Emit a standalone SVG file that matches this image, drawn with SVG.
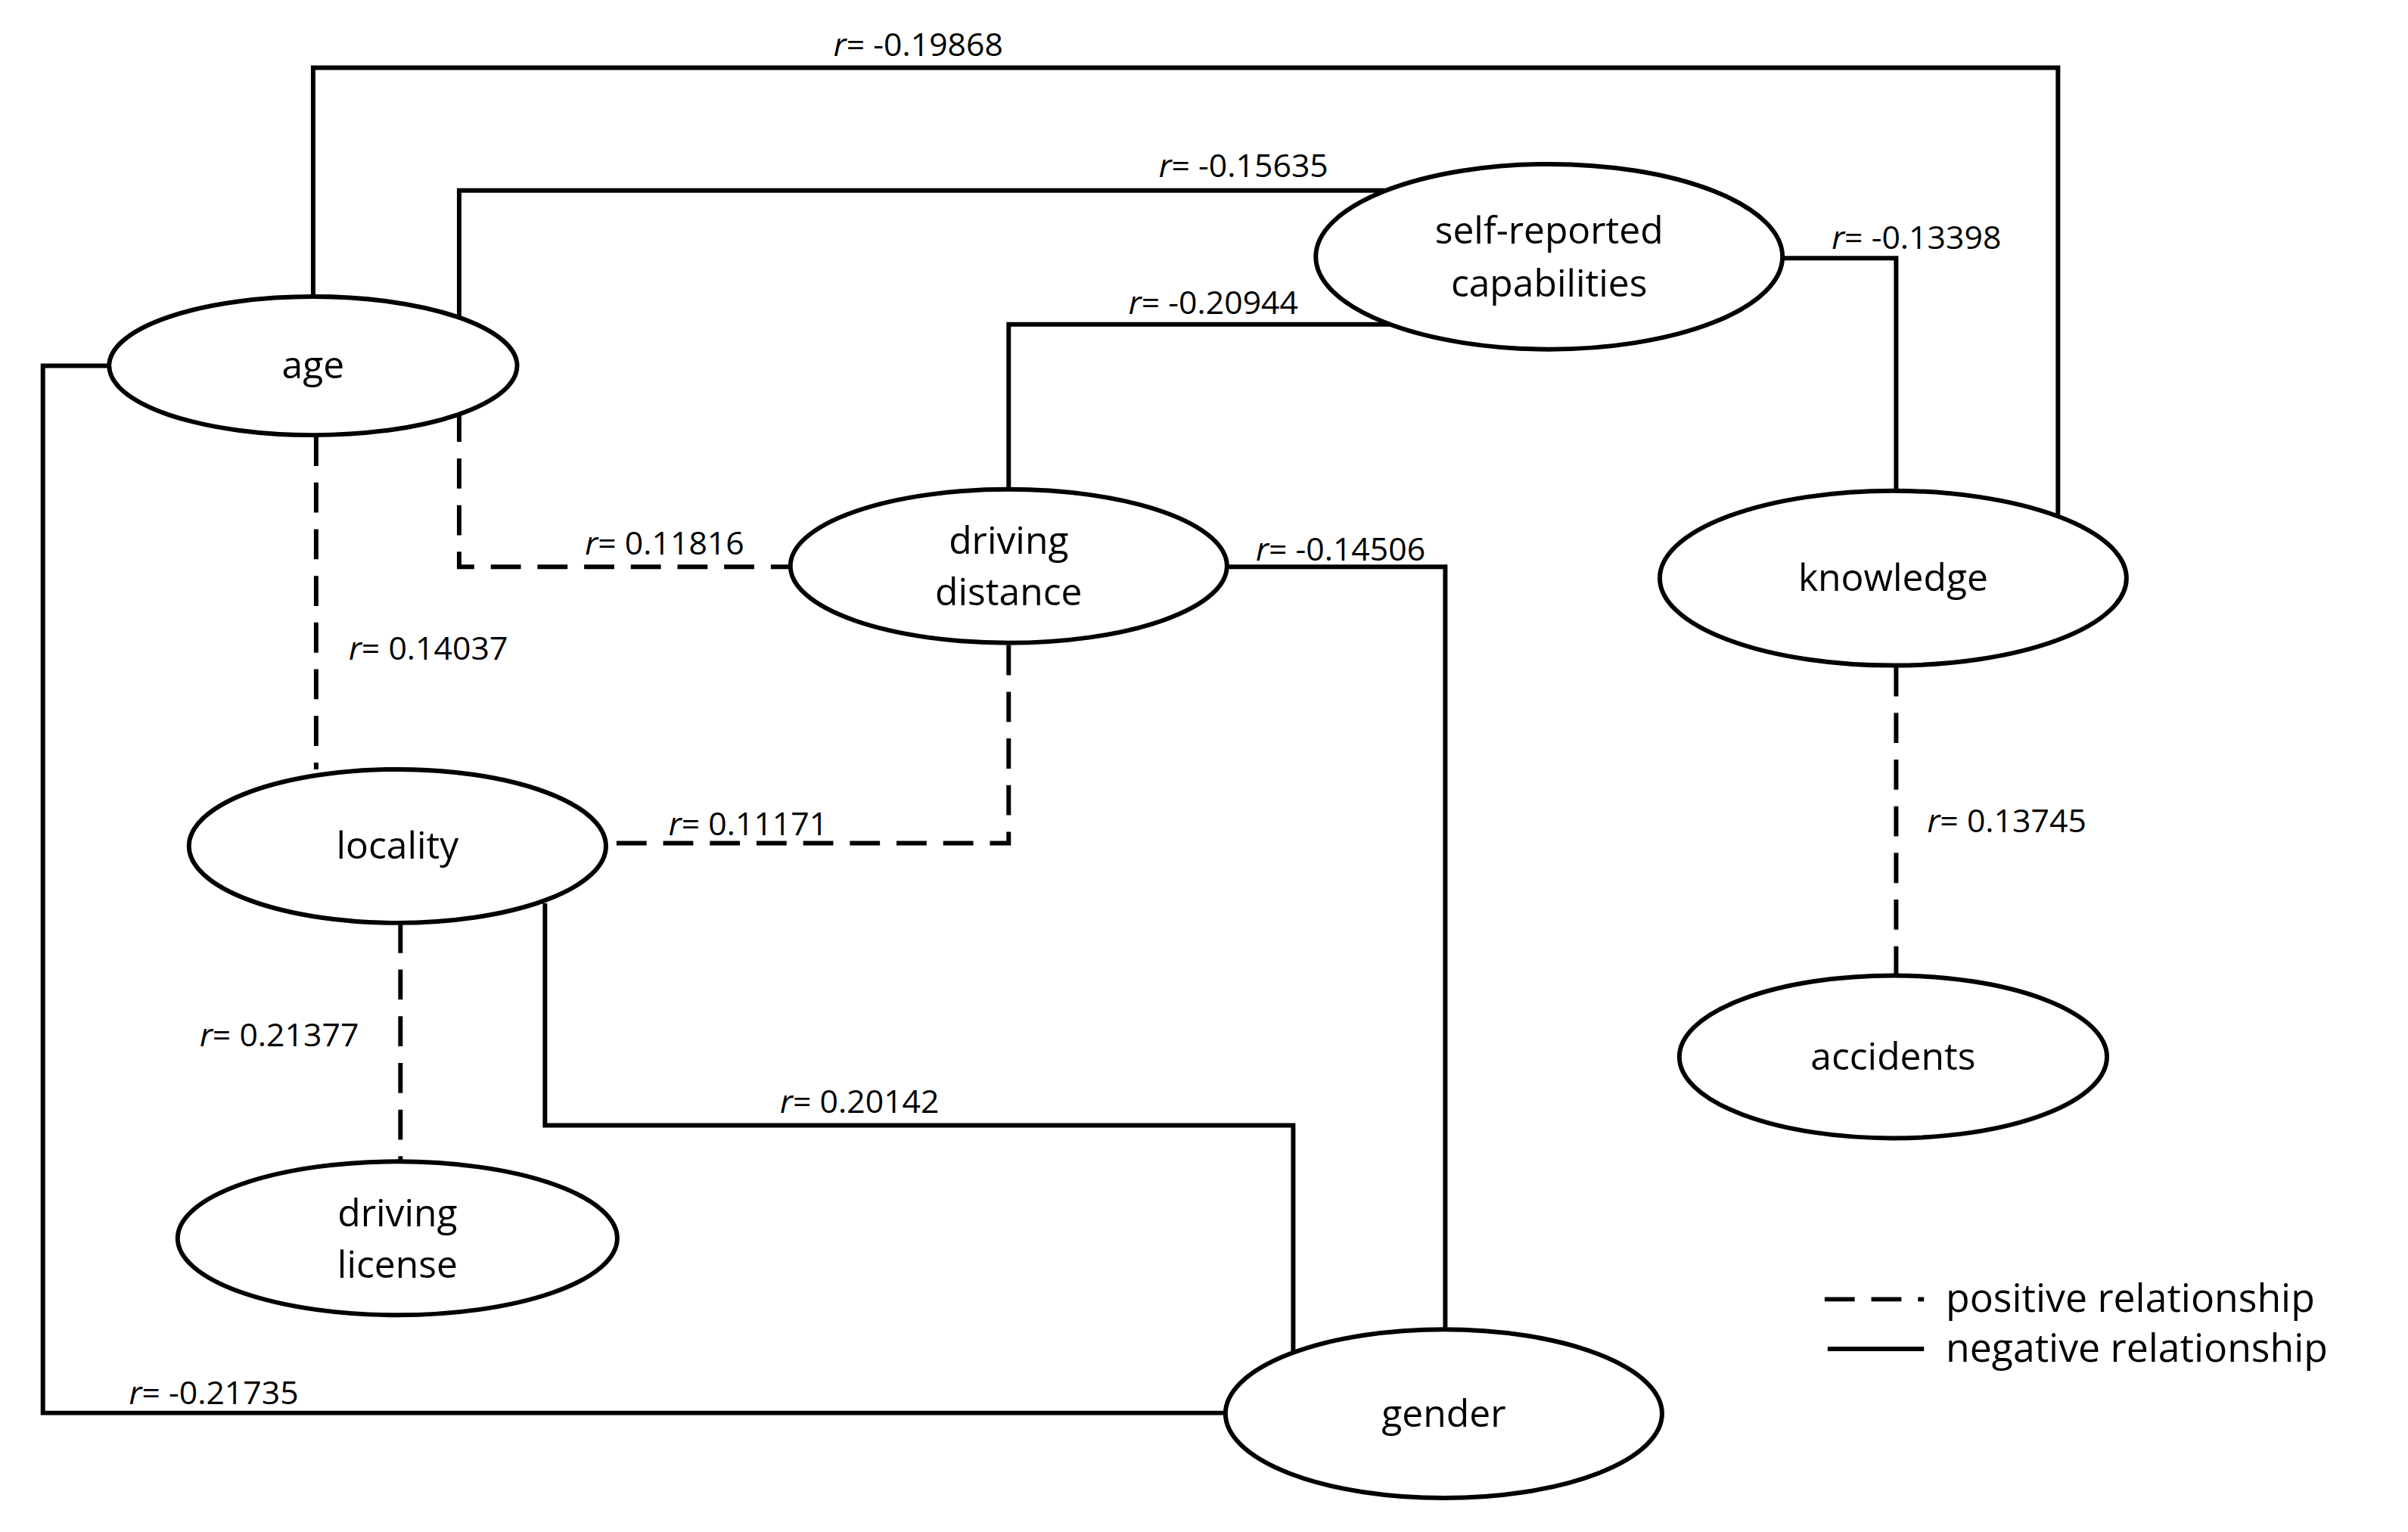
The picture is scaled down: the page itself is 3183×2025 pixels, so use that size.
<svg xmlns="http://www.w3.org/2000/svg" width="3183" height="2025" viewBox="0 0 3183 2025">
<style>
.n{fill:#fff;stroke:#000;stroke-width:6}
.t{font-family:"Open Sans","DejaVu Sans",sans-serif;font-size:50px;text-anchor:middle;fill:#000}
.l{font-family:"Open Sans","DejaVu Sans",sans-serif;font-size:43px;text-anchor:middle;fill:#000}
.s{fill:none;stroke:#000;stroke-width:6}
.d{fill:none;stroke:#000;stroke-width:6;stroke-dasharray:40 22}
.g{font-family:"Open Sans","DejaVu Sans",sans-serif;font-size:52px;fill:#000}
</style>
<rect width="3183" height="2025" fill="#fff"/>
<g transform="scale(0.995)">
<g id="connectors">
<polyline class="s" points="416,394 416,90 2734,90 2734,684"/>
<polyline class="s" points="610,423 610,253 1846,253"/>
<polyline class="s" points="2366,343 2519,343 2519,653"/>
<polyline class="s" points="1846,431 1340,431 1340,650"/>
<polyline class="d" points="610,547 610,753 1050,753"/>
<polyline class="d" points="420,579 420,1022"/>
<polyline class="s" points="1632,753 1920,753 1920,1766"/>
<polyline class="d" points="1340,857 1340,1120 808,1120"/>
<polyline class="d" points="532,1226 532,1543"/>
<polyline class="s" points="724,1200 724,1495 1718,1495 1718,1795"/>
<polyline class="s" points="147,486 57,486 57,1877 1628,1877"/>
<polyline class="d" points="2519,885 2519,1296"/>
<g class="l">
<text x="1220" y="74"><tspan font-style="italic">r</tspan>= -0.19868</text>
<text x="1652" y="235"><tspan font-style="italic">r</tspan>= -0.15635</text>
<text x="2546" y="331"><tspan font-style="italic">r</tspan>= -0.13398</text>
<text x="1612" y="417"><tspan font-style="italic">r</tspan>= -0.20944</text>
<text x="883" y="737"><tspan font-style="italic">r</tspan>= 0.11816</text>
<text x="569" y="876"><tspan font-style="italic">r</tspan>= 0.14037</text>
<text x="1781" y="745"><tspan font-style="italic">r</tspan>= -0.14506</text>
<text x="994" y="1110"><tspan font-style="italic">r</tspan>= 0.11171</text>
<text x="371" y="1390"><tspan font-style="italic">r</tspan>= 0.21377</text>
<text x="1142" y="1478"><tspan font-style="italic">r</tspan>= 0.20142</text>
<text x="284" y="1865"><tspan font-style="italic">r</tspan>= -0.21735</text>
<text x="2666" y="1106"><tspan font-style="italic">r</tspan>= 0.13745</text>
</g>
</g>
<g id="age"><ellipse class="n" cx="416" cy="486" rx="271" ry="92"/><text class="t" x="416" y="503">age</text></g>
<g id="self-reported"><ellipse class="n" cx="2058" cy="341" rx="310" ry="123"/><text class="t" x="2058" y="324">self-reported</text><text class="t" x="2058" y="394">capabilities</text></g>
<g id="driving-distance"><ellipse class="n" cx="1340" cy="752" rx="290" ry="102"/><text class="t" x="1340" y="736">driving</text><text class="t" x="1340" y="804">distance</text></g>
<g id="knowledge"><ellipse class="n" cx="2515" cy="768" rx="310" ry="116"/><text class="t" x="2515" y="785">knowledge</text></g>
<g id="locality"><ellipse class="n" cx="528" cy="1124" rx="277" ry="102"/><text class="t" x="528" y="1141">locality</text></g>
<g id="accidents"><ellipse class="n" cx="2515" cy="1404" rx="284" ry="108"/><text class="t" x="2515" y="1421">accidents</text></g>
<g id="driving-license"><ellipse class="n" cx="528" cy="1645" rx="292" ry="102"/><text class="t" x="528" y="1629">driving</text><text class="t" x="528" y="1697">license</text></g>
<g id="gender"><ellipse class="n" cx="1918" cy="1878" rx="290" ry="112"/><text class="t" x="1918" y="1895">gender</text></g>
<g id="legend">
<line class="d" x1="2424" y1="1726" x2="2556" y2="1726" stroke-dasharray="50 28"/>
<text class="g" x="2585" y="1743">positive relationship</text>
<line class="s" x1="2428" y1="1792" x2="2556" y2="1792"/>
<text class="g" x="2585" y="1809">negative relationship</text>
</g>
</g>
</svg>
